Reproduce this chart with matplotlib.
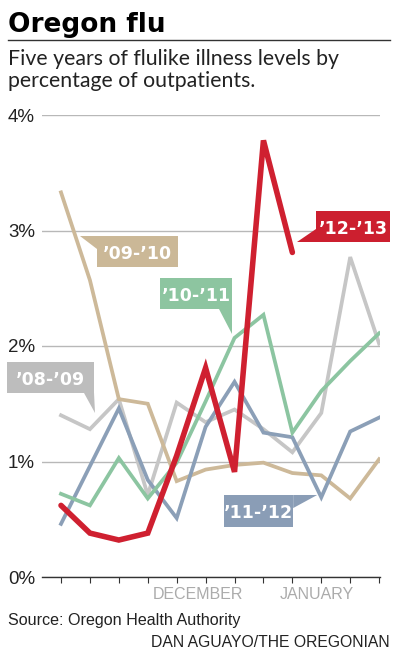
"""
Oregon flu: five seasons of flulike illness as a share of outpatients.
"""
import numpy as np
import matplotlib
matplotlib.use('Agg')
import matplotlib.pyplot as plt
from matplotlib.patches import Polygon, Rectangle
from matplotlib.lines import Line2D

weeks = np.arange(12)
month_labels = ['DECEMBER', 'JANUARY']
month_pos = [4.74, 8.86]
y_ticks = [0, 1, 2, 3, 4]
y_labels = ['0%', '1%', '2%', '3%', '4%']

s0809 = [1.40, 1.28, 1.54, 0.71, 1.51, 1.34, 1.45, 1.28, 1.08, 1.42, 2.77, 2.02]
s0910 = [3.33, 2.57, 1.54, 1.50, 0.83, 0.93, 0.97, 0.99, 0.90, 0.88, 0.68, 1.02]
s1011 = [0.72, 0.62, 1.03, 0.68, 0.99, 1.52, 2.07, 2.27, 1.25, 1.61, 1.87, 2.11]
s1112 = [0.46, 0.96, 1.46, 0.84, 0.51, 1.30, 1.69, 1.25, 1.21, 0.69, 1.26, 1.38]
s1213 = [0.62, 0.38, 0.32, 0.38, 1.05, 1.81, 0.91, 3.78, 2.81]

GRAY = '#c6c6c6'
TAN = '#cdb999'
GREEN = '#8cc5a1'
BLUE = '#8b9fb7'
RED = '#cf2030'

LATO = ['Lato', 'DejaVu Sans']
SANS = ['Liberation Sans', 'DejaVu Sans']


def label(ax, text, box, tip, color):
    x0, y0, x1, y1 = box
    ax.add_patch(Rectangle((x0, y0), x1 - x0, y1 - y0, fc=color, ec='none',
                           clip_on=False, zorder=6))
    ax.add_patch(Polygon(tip, closed=True, fc=color, ec='none',
                         clip_on=False, zorder=6))
    ax.text((x0 + x1) / 2, (y0 + y1) / 2, text, color='white', fontsize=12.5,
            fontweight='bold', family=['DejaVu Sans'], ha='center',
            va='center_baseline', zorder=7, clip_on=False)


def main():
    fig = plt.figure(figsize=(3.98, 6.65), dpi=100)
    ax = fig.add_axes([42 / 398, 1 - 577 / 665, 338 / 398, 462 / 665])

    ax.plot(weeks, s0809, color=GRAY, lw=2.7, zorder=2, solid_joinstyle='miter')
    ax.plot(weeks, s0910, color=TAN, lw=2.7, zorder=2, solid_joinstyle='miter')
    ax.plot(weeks, s1112, color=BLUE, lw=2.7, zorder=3, solid_joinstyle='miter')
    ax.plot(weeks, s1011, color=GREEN, lw=2.7, zorder=3, solid_joinstyle='miter')
    ax.plot(weeks[:len(s1213)], s1213, color=RED, lw=4.0, zorder=4,
            solid_capstyle='round', solid_joinstyle='miter')

    ax.set_xlim(-0.657, 11.03)
    ax.set_ylim(0, 4)
    for side in ['top', 'right', 'left']:
        ax.spines[side].set_visible(False)
    ax.spines['bottom'].set_color('#333333')
    ax.spines['bottom'].set_linewidth(1.0)
    ax.spines['bottom'].set_zorder(5)

    ax.set_yticks(y_ticks)
    ax.set_yticklabels(y_labels, fontsize=13.5, family=SANS, color='#222222')
    ax.tick_params(axis='y', length=0, pad=5)
    ax.yaxis.grid(True, color='#b8b8b8', lw=1.0)
    ax.set_axisbelow(True)

    ax.set_xticks(weeks)
    ax.set_xticklabels([])
    ax.tick_params(axis='x', length=4, width=0.8, color='#333333', direction='out')
    ax.set_xticks([7], minor=True)
    ax.tick_params(axis='x', which='minor', length=27, width=0.8, color='#333333')

    for name, pos in zip(month_labels, month_pos):
        ax.annotate(name, (pos, 0), xycoords=('data', 'axes fraction'),
                    xytext=(0, -12.5), textcoords='offset points',
                    ha='center', va='center', fontsize=11.5, family=SANS,
                    color='#ababab', annotation_clip=False)

    label(ax, '\u201908-\u201909', (-1.869, 1.593, 1.142, 1.861),
          [(0.796, 1.593), (1.142, 1.593), (1.176, 1.42)], '#bdbdbd')
    label(ax, '\u201909-\u201910', (1.246, 2.684, 4.048, 2.952),
          [(0.657, 2.952), (1.246, 2.952), (1.246, 2.84)], '#cbb897')
    label(ax, '\u201910-\u201911', (3.426, 2.320, 5.917, 2.589),
          [(5.467, 2.320), (5.917, 2.320), (5.917, 2.104)], '#8dc5a0')
    label(ax, '\u201911-\u201912', (5.640, 0.433, 8.028, 0.710),
          [(8.028, 0.710), (8.858, 0.710), (8.028, 0.597)], '#8a9db6')
    label(ax, '\u201912-\u201913', (8.824, 2.900, 11.384, 3.169),
          [(8.824, 3.013), (8.824, 2.900), (8.166, 2.900)], '#cc1f2f')

    fig.text(8 / 398, 1 - 32 / 665, 'Oregon flu', fontsize=19, fontweight='bold',
             family=['DejaVu Sans'], va='baseline', color='black')
    fig.add_artist(Line2D([8 / 398, 390 / 398], [1 - 40 / 665, 1 - 40 / 665],
                          color='#333333', lw=1.0))
    fig.text(8 / 398, 1 - 65 / 665, 'Five years of flulike illness levels by',
             fontsize=15.3, family=LATO, va='baseline', color='#222222')
    fig.text(8 / 398, 1 - 87 / 665, 'percentage of outpatients.',
             fontsize=15.3, family=LATO, va='baseline', color='#222222')

    fig.text(8 / 398, 1 - 625 / 665, 'Source: Oregon Health Authority',
             fontsize=11.6, family=SANS, va='baseline', color='#222222')
    fig.text(390 / 398, 1 - 647 / 665, 'DAN AGUAYO/THE OREGONIAN',
             fontsize=11.3, family=SANS, va='baseline', ha='right', color='#222222')

    fig.savefig('out.png', dpi=100)


if __name__ == '__main__':
    main()
